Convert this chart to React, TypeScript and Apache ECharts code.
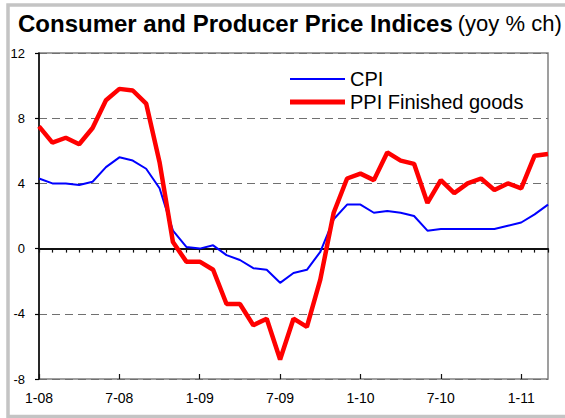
import React, { useEffect, useRef } from "react";
import * as echarts from "echarts";

const months = [
  "1-08","2-08","3-08","4-08","5-08","6-08","7-08","8-08","9-08","10-08","11-08","12-08",
  "1-09","2-09","3-09","4-09","5-09","6-09","7-09","8-09","9-09","10-09","11-09","12-09",
  "1-10","2-10","3-10","4-10","5-10","6-10","7-10","8-10","9-10","10-10","11-10","12-10",
  "1-11","2-11","3-11",
];

const cpi = [
  4.3, 4.0, 4.0, 3.9, 4.1, 5.0, 5.6, 5.4, 4.9, 3.7, 1.1, 0.1,
  0.0, 0.2, -0.4, -0.7, -1.2, -1.3, -2.1, -1.5, -1.3, -0.2, 1.8, 2.7,
  2.7, 2.2, 2.3, 2.2, 2.0, 1.1, 1.2, 1.2, 1.2, 1.2, 1.2, 1.4,
  1.6, 2.1, 2.7,
];

const ppi = [
  7.5, 6.5, 6.8, 6.4, 7.4, 9.1, 9.8, 9.7, 8.9, 5.3, 0.4, -0.8,
  -0.8, -1.3, -3.4, -3.4, -4.7, -4.3, -6.8, -4.3, -4.8, -1.9, 2.2, 4.3,
  4.6, 4.2, 5.9, 5.4, 5.2, 2.8, 4.2, 3.4, 4.0, 4.3, 3.6, 4.0,
  3.7, 5.7, 5.8,
];

const yMin = -8;
const yMax = 12;
const yStep = 4;

const FONT = "'Liberation Sans', Arial, sans-serif";

export default function App() {
  const ref = useRef<HTMLDivElement>(null);

  useEffect(() => {
    document.body.style.margin = "0";
    if (!ref.current) return;
    const chart = echarts.init(ref.current, null, { renderer: "svg" });
    chart.setOption({
      animation: false,
      backgroundColor: "#ffffff",
      textStyle: { fontFamily: FONT },
      title: {
        left: 13,
        top: 6,
        text: "{b|Consumer and Producer Price Indices} {n|(yoy % ch)}",
        textStyle: {
          fontWeight: "normal",
          rich: {
            b: { fontSize: 24, fontWeight: "bold", color: "#000", fontFamily: FONT },
            n: { fontSize: 22, fontWeight: "normal", color: "#000", fontFamily: FONT },
          },
        },
      },
      graphic: [
        {
          type: "rect",
          shape: { x: 8, y: 5, width: 600, height: 411.5 },
          style: { fill: "none", stroke: "#c4c4c4", lineWidth: 3.5 },
          silent: true,
          z: -1,
        },
      ],
      legend: {
        orient: "vertical",
        left: 285,
        top: 64,
        itemWidth: 55,
        itemHeight: 14,
        itemGap: 3,
        symbolKeepAspect: true,
        textStyle: { fontSize: 20, color: "#000", fontFamily: FONT },
        data: [
          { name: "CPI", icon: "path://M0,0 H55 V2 H0 Z", itemStyle: { color: "#0000ff" } },
          { name: "PPI Finished goods", icon: "path://M0,0 H55 V5 H0 Z", itemStyle: { color: "#ff0000" } },
        ],
      },
      grid: {
        left: 39,
        right: 17,
        top: 53,
        height: 326,
        show: true,
        borderColor: "#808080",
        borderWidth: 1.5,
      },
      xAxis: [
        {
          type: "category",
          data: months,
          boundaryGap: false,
          position: "bottom",
          axisLine: { show: true, lineStyle: { color: "#111", width: 2 } },
          axisTick: { show: true, interval: 0, length: 4, lineStyle: { color: "#111", width: 1.2 } },
          axisLabel: {
            interval: 5,
            margin: 12,
            fontSize: 14,
            color: "#000",
            fontFamily: FONT,
          },
          splitLine: { show: false },
        },
        {
          type: "category",
          data: months,
          boundaryGap: false,
          position: "bottom",
          axisLine: { show: false },
          axisTick: { show: true, inside: true, interval: 5, length: 5, lineStyle: { color: "#111", width: 1.2 } },
          axisLabel: { show: false },
          splitLine: { show: false },
        },
      ],
      yAxis: {
        type: "value",
        min: yMin,
        max: yMax,
        interval: yStep,
        axisLine: { show: true, lineStyle: { color: "#000", width: 1.5 } },
        axisTick: { show: true, length: 4, lineStyle: { color: "#000", width: 1.2 } },
        axisLabel: { margin: 14, fontSize: 13, color: "#000", fontFamily: FONT },
        splitLine: { show: true, lineStyle: { color: "#707070", width: 1, type: [8, 5] } },
      },
      series: [
        {
          name: "CPI",
          type: "line",
          data: cpi,
          showSymbol: false,
          symbol: "none",
          lineStyle: { color: "#0000ff", width: 2 },
          itemStyle: { color: "#0000ff" },
          z: 3,
        },
        {
          name: "PPI Finished goods",
          type: "line",
          data: ppi,
          showSymbol: false,
          symbol: "none",
          lineStyle: { color: "#ff0000", width: 4.5 },
          itemStyle: { color: "#ff0000" },
          z: 4,
        },
      ],
    });
    return () => chart.dispose();
  }, []);

  return <div ref={ref} style={{ width: 565, height: 418 }} />;
}
